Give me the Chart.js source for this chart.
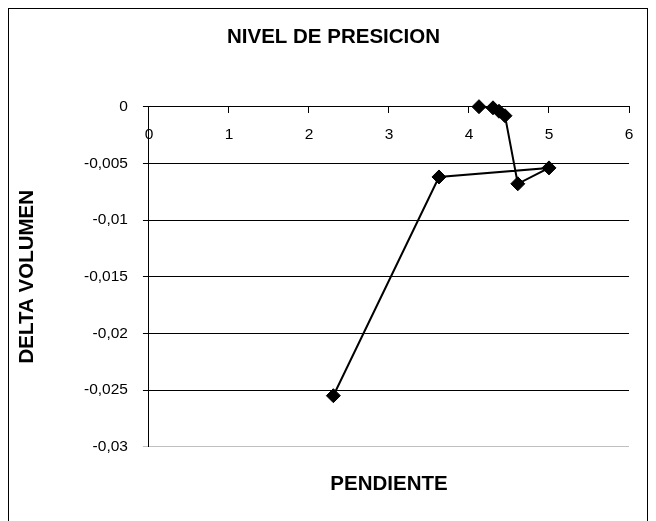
<!DOCTYPE html>
<html>
<head>
<meta charset="utf-8">
<script src="https://cdn.jsdelivr.net/npm/chart.js@4/dist/chart.umd.min.js"></script>
<style>
  html, body { margin: 0; padding: 0; background: #fff; }
  canvas { display: block; }
</style>
</head>
<body>
<canvas id="c" width="656" height="521"></canvas>
<script>
// Data
const pendiente = [4.125, 4.30, 4.375, 4.45, 4.61, 5.00, 3.625, 2.305];
const deltaVolumen = [0.0000, -0.0001, -0.0004, -0.0008, -0.0068, -0.0054, -0.0062, -0.0255];
const xTickLabels = ['0', '1', '2', '3', '4', '5', '6'];
const yTickLabels = ['-0,03', '-0,025', '-0,02', '-0,015', '-0,01', '-0,005', '0'];
const chartTitle = 'NIVEL DE PRESICION';
const xTitle = 'PENDIENTE';
const yTitle = 'DELTA VOLUMEN';

const FONT = "'Liberation Sans', Arial, sans-serif";
const points = pendiente.map((x, i) => ({ x: x, y: deltaVolumen[i] }));

const borderPlugin = {
  id: 'outerBorder',
  beforeDraw(chart) {
    const ctx = chart.ctx;
    ctx.save();
    ctx.fillStyle = '#fff';
    ctx.fillRect(0, 0, chart.width, chart.height);
    ctx.strokeStyle = '#000';
    ctx.lineWidth = 1;
    ctx.strokeRect(8.5, 8.5, 639, 530);
    ctx.restore();
  }
};

new Chart(document.getElementById('c'), {
  type: 'scatter',
  data: {
    datasets: [{
      data: points,
      showLine: true,
      borderColor: '#000',
      borderWidth: 2,
      backgroundColor: '#000',
      pointStyle: 'rectRot',
      pointRadius: 7,
      pointHoverRadius: 7,
      pointBackgroundColor: '#000',
      pointBorderColor: '#000',
      pointBorderWidth: 1,
      clip: false,
      tension: 0
    }]
  },
  options: {
    responsive: false,
    animation: false,
    devicePixelRatio: 1,
    layout: { padding: { left: 38, right: 27, top: 10, bottom: 0 } },
    plugins: {
      legend: { display: false },
      tooltip: { enabled: false },
      title: {
        display: true,
        text: chartTitle,
        color: '#000',
        font: { family: FONT, size: 20.5, weight: 'bold', lineHeight: 1.2 },
        padding: { top: 15, bottom: 57.1 }
      },
      subtitle: {
        display: true,
        text: xTitle,
        position: 'bottom',
        fullSize: false,
        color: '#000',
        font: { family: FONT, size: 20.5, weight: 'bold', lineHeight: 1.2 },
        padding: { top: 25.3, bottom: 24.4 }
      }
    },
    scales: {
      x: {
        type: 'linear',
        position: { y: 0 },
        min: 0,
        max: 6,
        ticks: {
          stepSize: 1,
          color: '#000',
          padding: 13,
          maxRotation: 0,
          font: { family: FONT, size: 15.5 },
          callback: (v) => xTickLabels[Math.round(v)]
        },
        grid: { drawOnChartArea: false, drawTicks: true, tickLength: 6, color: '#000', lineWidth: 1 },
        border: { display: true, color: '#000', width: 1 }
      },
      y: {
        type: 'linear',
        position: 'left',
        min: -0.03,
        max: 0,
        ticks: {
          stepSize: 0.005,
          color: '#000',
          padding: 15,
          font: { family: FONT, size: 15.5 },
          callback: (v, i) => yTickLabels[Math.round((v + 0.03) / 0.005)]
        },
        grid: {
          drawTicks: true,
          tickLength: 6,
          lineWidth: 1,
          color: (ctx) => (ctx.tick && Math.abs(ctx.tick.value + 0.03) < 1e-9) ? '#c0c0c0' : '#000'
        },
        border: { display: true, color: '#000', width: 1 },
        title: {
          display: true,
          text: yTitle,
          color: '#000',
          font: { family: FONT, size: 20.5, weight: 'bold', lineHeight: 1.2 },
          padding: { top: -23.3, bottom: 29.7 }
        }
      }
    }
  },
  plugins: [borderPlugin]
});
</script>
</body>
</html>
